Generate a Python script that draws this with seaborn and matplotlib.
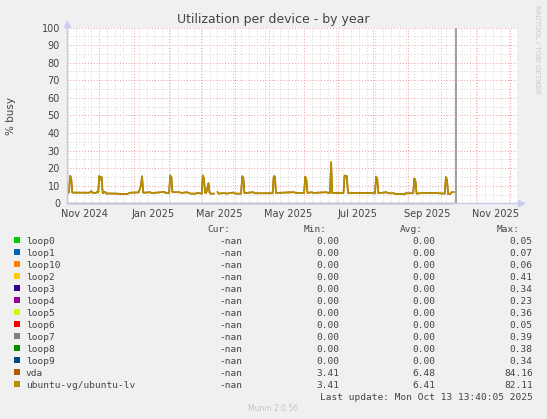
import numpy as np
import pandas as pd
import seaborn as sns
import matplotlib.pyplot as plt
import matplotlib.dates as mdates
import matplotlib.ticker as mtick
from matplotlib.patches import Rectangle

W, H = 547, 419

# ubuntu-vg/ubuntu-lv utilization (% busy)
dates = [
    "2024-11-03", "2024-11-04", "2024-11-05", "2024-11-06", "2024-11-07",
    "2024-11-22", "2024-11-24", "2024-11-25", "2024-11-28", "2024-11-29",
    "2024-11-30", "2024-12-01", "2024-12-02", "2024-12-03", "2024-12-04",
    "2024-12-06", "2024-12-07", "2024-12-17", "2024-12-20", "2024-12-26",
    "2024-12-28", "2025-01-05", "2025-01-07", "2025-01-08", "2025-01-09",
    "2025-01-15", "2025-01-17", "2025-01-28", "2025-01-29", "2025-02-01",
    "2025-02-02", "2025-02-03", "2025-02-04", "2025-02-10", "2025-02-12",
    "2025-02-17", "2025-02-20", "2025-02-25", "2025-02-26", "2025-03-02",
    "2025-03-03", "2025-03-04", "2025-03-05", "2025-03-06", "2025-03-08",
    "2025-03-09", "2025-03-10", "2025-03-13", "2025-03-14", "2025-03-16",
    "2025-03-17", "2025-03-22", "2025-03-24", "2025-03-30", "2025-04-01",
    "2025-04-06", "2025-04-07", "2025-04-08", "2025-04-09", "2025-04-17",
    "2025-04-18", "2025-05-04", "2025-05-05", "2025-05-06", "2025-05-07",
    "2025-05-23", "2025-05-25", "2025-06-01", "2025-06-02", "2025-06-03",
    "2025-06-04", "2025-06-08", "2025-06-09", "2025-06-21", "2025-06-22",
    "2025-06-24", "2025-06-25", "2025-06-26", "2025-07-06", "2025-07-07",
    "2025-07-09", "2025-07-10", "2025-07-16", "2025-07-28", "2025-08-03",
    "2025-08-04", "2025-08-05", "2025-08-06", "2025-08-13", "2025-08-15",
    "2025-08-20", "2025-08-21", "2025-08-28", "2025-08-29", "2025-08-30",
    "2025-09-06", "2025-09-07", "2025-09-08", "2025-09-09", "2025-09-15",
    "2025-09-24", "2025-10-04", "2025-10-05", "2025-10-06", "2025-10-07",
    "2025-10-09", "2025-10-10", "2025-10-12",
]
lv_util = [
    6.1, 6.1, 15.6, 14.5, 6.1,
    6.0, 6.9, 6.0, 5.9, 6.5,
    6.1, 15.6, 13.5, 15.0, 5.7,
    6.5, 5.6, 5.5, 5.3, 5.3,
    6.0, 6.2, 10.0, 15.4, 6.0,
    6.3, 5.8, 6.5, 5.8, 5.9,
    15.8, 15.0, 6.3, 6.3, 5.9,
    6.3, 5.5, 5.5, 5.9, 5.5,
    15.8, 14.0, 6.0, 5.9, 11.4,
    6.0, 5.5, 5.5, np.nan, 6.5,
    5.5, 5.8, 5.5, 6.1, 5.5,
    5.5, 15.4, 14.5, 5.8, 6.3,
    5.7, 5.7, 15.3, 15.3, 5.9,
    6.3, 5.9, 5.9, 15.2, 13.5,
    5.9, 6.3, 5.9, 6.3, 5.9,
    5.9, 23.4, 5.9, 5.9, 15.8,
    15.5, 5.7, 5.9, 5.9, 5.7,
    15.2, 14.0, 5.7, 6.3, 5.7,
    5.7, 5.3, 5.3, 5.0, 5.7,
    5.7, 14.1, 12.5, 5.5, 5.9,
    5.9, 5.5, 14.9, 13.5, 5.3,
    5.3, 6.3, 6.3,
]
# vda sits right under the lv line on this graph
vda_util = list(lv_util)

# the loop devices stay at 0 the whole time
loop_dates = ["2024-11-03", "2025-10-12"]
loop_util = [0.0, 0.0]

devices = ["loop0", "loop1", "loop10", "loop2", "loop3", "loop4", "loop5",
           "loop6", "loop7", "loop8", "loop9", "vda", "ubuntu-vg/ubuntu-lv"]
colors = ["#00CC00", "#0066B3", "#FF8000", "#FFCC00", "#330099", "#990099",
          "#CCFF00", "#FF0000", "#808080", "#008F00", "#00487D", "#B35A00",
          "#B38F00"]
cur_vals = ["-nan"] * 13
min_vals = ["0.00"] * 11 + ["3.41", "3.41"]
avg_vals = ["0.00"] * 11 + ["6.48", "6.41"]
max_vals = ["0.05", "0.07", "0.06", "0.41", "0.34", "0.23", "0.36", "0.05",
            "0.39", "0.38", "0.34", "84.16", "82.11"]

last_update = "2025-10-13 13:40:05"
x_start, x_end = "2024-11-02 07:00", "2025-12-07 05:00"

text_col = "#444444"

sns.set_style("white")
plt.rcParams['font.family'] = ['DejaVu Sans']

fig = plt.figure(figsize=(W / 100, H / 100), dpi=100, facecolor="#f0f0f0")
ax = fig.add_axes([67 / W, 1 - 203.3 / H, 450 / W, 175.8 / H])
ax.set_facecolor("white")


def fx(px):
    return px / W


def fy(py):
    return 1 - py / H


# series
loop_df = pd.DataFrame({"date": pd.to_datetime(loop_dates), "util": loop_util})
for name, color in zip(devices[:11], colors[:11]):
    sns.lineplot(data=loop_df, x="date", y="util", color=color, lw=1.0,
                 alpha=0.07, ax=ax, clip_on=False)

for vals, color in [(vda_util, colors[11]), (lv_util, colors[12])]:
    df = pd.DataFrame({"date": pd.to_datetime(dates), "util": vals})
    df["segment"] = df["util"].isna().cumsum()
    df = df.dropna()
    sns.lineplot(data=df, x="date", y="util", units="segment", estimator=None,
                 color=color, lw=1.2, ax=ax)

ax.axvline(pd.Timestamp(last_update), color="#999999", lw=1.3, zorder=3)

# axes
ax.set_xlim(pd.Timestamp(x_start), pd.Timestamp(x_end))
ax.set_ylim(0, 100)
ax.set_xlabel("")
ax.set_ylabel("")
ax.xaxis.set_major_locator(mdates.MonthLocator())
ax.xaxis.set_major_formatter(mtick.NullFormatter())
ax.xaxis.set_minor_locator(mdates.WeekdayLocator(byweekday=mdates.SU))
ax.yaxis.set_major_locator(mtick.MultipleLocator(10))
ax.yaxis.set_minor_locator(mtick.MultipleLocator(5))
ax.tick_params(axis="x", which="both", length=0)
ax.tick_params(axis="y", which="both", length=0, pad=5, labelsize=7,
               labelcolor=text_col)

ax.set_axisbelow(True)
ax.grid(which="minor", color="#d4d4d4", linestyle=(0, (1, 2)), linewidth=0.7)
ax.grid(which="major", color="#f09a9a", linestyle=(0, (1, 2)), linewidth=0.7)

for s in ["top", "right"]:
    ax.spines[s].set_visible(False)
for s in ["left", "bottom"]:
    ax.spines[s].set_color("#c4c8ec")
    ax.spines[s].set_linewidth(1.0)

ax.plot(0, 1.018, marker="^", ms=4, color="#ccccf0", transform=ax.transAxes,
        clip_on=False)
ax.plot(1.008, 0, marker=">", ms=4, color="#ccccf0", transform=ax.transAxes,
        clip_on=False)

sec = ax.secondary_xaxis("bottom")
sec.xaxis.set_major_locator(mdates.MonthLocator(bymonth=[1, 3, 5, 7, 9, 11],
                                                bymonthday=18))
sec.xaxis.set_major_formatter(mdates.DateFormatter("%b %Y"))
sec.tick_params(length=0, pad=4, labelsize=7, labelcolor=text_col)
sec.spines["bottom"].set_visible(False)

# titles
fig.text(fx(273), fy(19.5), "Utilization per device - by year", ha="center",
         va="center", fontsize=9, color=text_col)
fig.text(fx(11), fy(116), "% busy", rotation=90, ha="center", va="center",
         fontsize=7.5, color=text_col)
fig.text(fx(537), fy(5), "RRDTOOL / TOBI OETIKER", rotation=270, ha="center",
         va="top", fontsize=5, color="#c8c8c8")

# legend table
mono = dict(family="DejaVu Sans Mono", fontsize=6.8, color=text_col,
            va="center_baseline")
for xr, head in zip([230, 326.6, 422.4, 519.3], ["Cur:", "Min:", "Avg:", "Max:"]):
    fig.text(fx(xr), fy(228), head, ha="right", **mono)

value_cols = [242.7, 339.3, 435.7, 532.7]
for i, name in enumerate(devices):
    y = 240 + 12 * i
    fig.add_artist(Rectangle((fx(14), fy(y + 3)), 6 / W, 6 / H,
                             facecolor=colors[i], edgecolor="none",
                             transform=fig.transFigure))
    fig.text(fx(26), fy(y), name, ha="left", **mono)
    for xr, col in zip(value_cols, [cur_vals, min_vals, avg_vals, max_vals]):
        fig.text(fx(xr), fy(y), col[i], ha="right", **mono)

fig.text(fx(532.7), fy(396), "Last update: Mon Oct 13 13:40:05 2025",
         ha="right", **mono)
fig.text(fx(273), fy(408.3), "Munin 2.0.56", ha="center", va="center",
         fontsize=5.5, color="#c4c4c4")

fig.savefig("out.png", dpi=100, facecolor=fig.get_facecolor())
